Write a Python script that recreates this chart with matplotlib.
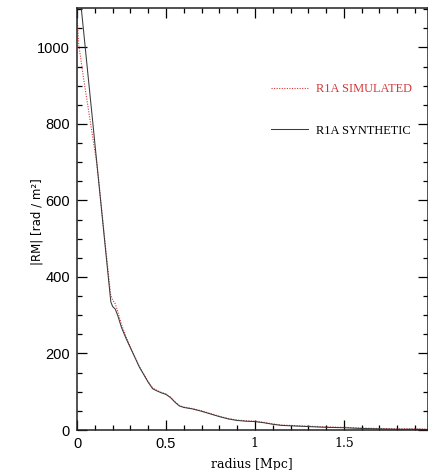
import matplotlib
matplotlib.use("Agg")
import matplotlib.pyplot as plt
from matplotlib.ticker import MultipleLocator

# radius [Mpc] and |RM| [rad/m^2]
radius = [0.0, 0.01, 0.02, 0.035, 0.04, 0.06, 0.08, 0.085, 0.1, 0.11, 0.12,
          0.14, 0.16, 0.175, 0.18, 0.19, 0.2, 0.215, 0.23, 0.25, 0.275, 0.3,
          0.325, 0.35, 0.375, 0.4, 0.425, 0.45, 0.475, 0.5, 0.525, 0.55,
          0.575, 0.6, 0.65, 0.7, 0.75, 0.8, 0.85, 0.9, 0.95, 1.0, 1.05, 1.1,
          1.15, 1.2, 1.3, 1.4, 1.5, 1.6, 1.7, 1.8, 1.9, 2.0]
rm_synthetic = [1214, 1168, 1121, 1052, 1029, 936, 844, 821, 751, 705, 658,
                566, 473, 404, 381, 335, 323, 316, 298, 268, 240, 215,
                190, 165, 145, 125, 108, 102, 97, 93, 85, 73,
                63, 59, 55, 49, 42, 35, 29, 25, 23, 22, 19, 15,
                12, 11, 9, 7, 6, 4, 3, 2, 2, 1]
rm_simulated = [1085, 1005, 975, 925, 910, 850, 790, 775, 730, 700, 662,
                570, 480, 415, 392, 352, 340, 330, 308, 276, 245, 217,
                192, 166, 146, 126, 110, 103, 98, 94, 86, 74,
                64, 60, 56, 50, 43, 36, 30, 26, 24, 23, 20, 16,
                13, 12, 10, 8, 7, 5, 4, 3, 3, 2]

labels = ["R1A SIMULATED", "R1A SYNTHETIC"]
red = "#d23a3a"

fig = plt.figure(figsize=(4.28, 4.70), dpi=100)
ax = fig.add_axes([77 / 428, 1 - 430 / 470, 350.5 / 428, 422 / 470])

ax.plot(radius, rm_simulated, color=red, lw=0.8, ls=(0, (1, 1.3)), label=labels[0])
ax.plot(radius, rm_synthetic, color="#3a3a3a", lw=0.75, label=labels[1])

ax.set_xlim(0, 1.97)
ax.set_ylim(0, 1103)
ax.xaxis.set_major_locator(MultipleLocator(0.5))
ax.xaxis.set_minor_locator(MultipleLocator(0.1))
ax.yaxis.set_major_locator(MultipleLocator(200))
ax.yaxis.set_minor_locator(MultipleLocator(50))
ax.set_xticks([0, 0.5, 1, 1.5])
ax.set_xticklabels(["0", "0.5", "1", "1.5"])
ax.tick_params(which="both", direction="in", top=True, right=True, width=0.9)
ax.tick_params(which="major", length=7)
ax.tick_params(which="minor", length=3.5)
ax.tick_params(axis="both", labelsize=10.5, pad=5)
for lbl in ax.get_xticklabels() + ax.get_yticklabels():
    lbl.set_family("Liberation Sans")
for lbl in ax.get_xticklabels()[2:]:
    lbl.set_family("DejaVu Serif")
    lbl.set_fontsize(9)
for sp in ax.spines.values():
    sp.set_linewidth(1.1)
    sp.set_color("#222222")

ax.set_xlabel("radius [Mpc]", family="DejaVu Serif", fontsize=9, labelpad=5)
ax.set_ylabel("|RM| [rad / m²]", family="DejaVu Sans", fontsize=8.5)
ax.yaxis.set_label_coords(-0.097, 0.493)

leg = ax.legend(loc="upper left", bbox_to_anchor=(0.554, 0.822), frameon=False,
                borderpad=0, borderaxespad=0, handlelength=3.0, handletextpad=0.6,
                labelspacing=2.4, prop={"family": "Liberation Serif", "size": 8.9},
                labelcolor=[red, "black"])

fig.savefig("out.png", dpi=100)
